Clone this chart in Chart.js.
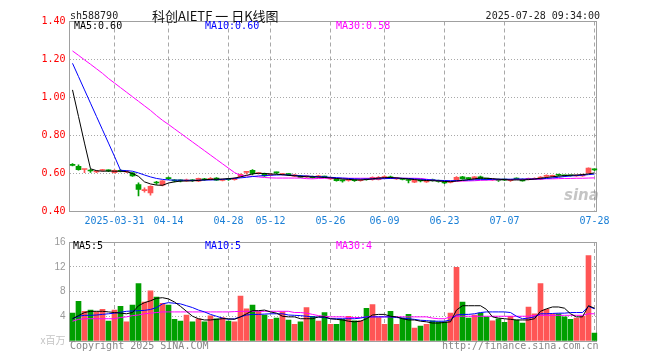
<!DOCTYPE html>
<html>
<head>
<meta charset="utf-8">
<script src="https://cdn.jsdelivr.net/npm/chart.js@4.4.1/dist/chart.umd.min.js"></script>
<style>
  html, body { margin: 0; padding: 0; background: #fff; }
  #wrap { position: relative; width: 660px; height: 360px; overflow: hidden; }
  canvas { position: absolute; left: 0; }
  .t { position: absolute; font-family: "DejaVu Sans Mono", monospace; font-size: 10px; line-height: 12px; white-space: nowrap; }
</style>
</head>
<body>
<div id="wrap">
  <canvas id="kline" width="660" height="232" style="top:0"></canvas>
  <canvas id="vol" width="660" height="128" style="top:232px"></canvas>

  <div class="t" style="left:70px;top:10px;color:#222">sh588790</div>
  <div class="t" style="left:152px;top:8px;font-family:'Noto Sans CJK SC';font-size:13px;line-height:15px;color:#111">科创AIETF 一 日K线图</div>
  <div class="t" style="right:60px;top:10px;color:#222">2025-07-28 09:34:00</div>

  <div class="t" style="left:74px;top:20px;color:#000">MA5:0.60</div>
  <div class="t" style="left:205px;top:20px;color:#0000ff">MA10:0.60</div>
  <div class="t" style="left:336px;top:20px;color:#ff00ff">MA30:0.58</div>

  <div class="t" style="left:73px;top:240px;color:#000">MA5:5</div>
  <div class="t" style="left:205px;top:240px;color:#0000ff">MA10:5</div>
  <div class="t" style="left:336px;top:240px;color:#ff00ff">MA30:4</div>

  <div class="t" style="left:564px;top:189px;font-family:'DejaVu Sans';font-size:15px;font-weight:bold;font-style:italic;color:rgba(150,150,150,0.55)">sina</div>

  <div class="t" style="left:70px;top:340px;color:#888">Copyright 2025 SINA.COM</div>
  <div class="t" style="left:442px;top:340px;color:#888">http://finance.sina.com.cn</div>
</div>

<script>
const year = '2025';
const dates = [
  '03-20','03-21','03-24','03-25','03-26','03-27','03-28','03-31',
  '04-01','04-02','04-03','04-07','04-08','04-09','04-10','04-11','04-14','04-15','04-16','04-17','04-18',
  '04-21','04-22','04-23','04-24','04-25','04-28','04-29','04-30',
  '05-06','05-07','05-08','05-09','05-12','05-13','05-14','05-15','05-16','05-19','05-20','05-21','05-22','05-23',
  '05-26','05-27','05-28','05-29','05-30',
  '06-03','06-04','06-05','06-06','06-09','06-10','06-11','06-12','06-13','06-16','06-17','06-18','06-19','06-20',
  '06-23','06-24','06-25','06-26','06-27','06-30',
  '07-01','07-02','07-03','07-04','07-07','07-08','07-09','07-10','07-11','07-14','07-15','07-16','07-17','07-18',
  '07-21','07-22','07-23','07-24','07-25','07-28'
];
const tickDates = ['03-31','04-14','04-28','05-12','05-26','06-09','06-23','07-07','07-28'];

const opens = [
  0.645,0.638,0.621,0.616,0.608,0.616,0.616,0.604,0.616,0.608,
  0.603,0.542,0.510,0.498,0.553,0.538,0.576,0.565,0.563,0.561,
  0.566,0.559,0.571,0.569,0.576,0.563,0.570,0.567,0.583,0.606,
  0.617,0.599,0.600,0.591,0.605,0.594,0.596,0.586,0.588,0.582,
  0.584,0.582,0.585,0.571,0.572,0.562,0.563,0.564,0.562,0.572,
  0.567,0.568,0.578,0.583,0.572,0.572,0.565,0.555,0.563,0.556,
  0.567,0.563,0.553,0.553,0.567,0.582,0.575,0.572,0.583,0.572,
  0.566,0.566,0.568,0.562,0.574,0.569,0.568,0.569,0.570,0.585,
  0.585,0.593,0.590,0.590,0.587,0.587,0.603,0.622
];
const highs = [
  0.652,0.645,0.622,0.622,0.615,0.622,0.619,0.619,0.620,0.614,
  0.605,0.551,0.524,0.535,0.559,0.563,0.581,0.568,0.567,0.570,
  0.568,0.576,0.574,0.579,0.578,0.571,0.573,0.577,0.598,0.607,
  0.620,0.604,0.602,0.599,0.608,0.601,0.600,0.595,0.590,0.589,
  0.586,0.590,0.587,0.580,0.574,0.566,0.570,0.567,0.569,0.575,
  0.583,0.584,0.588,0.586,0.578,0.575,0.571,0.569,0.566,0.564,
  0.570,0.566,0.558,0.560,0.584,0.585,0.579,0.584,0.586,0.575,
  0.572,0.570,0.571,0.568,0.577,0.572,0.576,0.577,0.584,0.593,
  0.592,0.597,0.592,0.591,0.592,0.597,0.630,0.625
];
const lows = [
  0.640,0.617,0.604,0.606,0.605,0.612,0.609,0.602,0.608,0.604,
  0.584,0.482,0.502,0.486,0.543,0.535,0.567,0.556,0.556,0.558,
  0.558,0.557,0.564,0.566,0.563,0.561,0.564,0.565,0.581,0.596,
  0.592,0.596,0.585,0.589,0.598,0.591,0.589,0.583,0.578,0.580,
  0.575,0.580,0.578,0.569,0.560,0.555,0.560,0.558,0.560,0.565,
  0.565,0.566,0.576,0.573,0.569,0.566,0.551,0.552,0.556,0.553,
  0.560,0.555,0.546,0.550,0.564,0.570,0.568,0.570,0.571,0.566,
  0.564,0.558,0.562,0.558,0.567,0.559,0.566,0.567,0.568,0.580,
  0.581,0.587,0.585,0.586,0.585,0.585,0.601,0.615
];
const closes = [
  0.643,0.620,0.622,0.613,0.612,0.618,0.614,0.617,0.612,0.611,
  0.587,0.516,0.513,0.533,0.550,0.561,0.573,0.561,0.561,0.567,
  0.562,0.574,0.567,0.575,0.565,0.568,0.567,0.575,0.596,0.607,
  0.600,0.602,0.587,0.596,0.603,0.598,0.594,0.593,0.580,0.586,
  0.578,0.585,0.581,0.578,0.562,0.561,0.567,0.562,0.566,0.568,
  0.580,0.580,0.584,0.575,0.575,0.569,0.563,0.567,0.561,0.562,
  0.563,0.558,0.551,0.557,0.580,0.572,0.573,0.582,0.573,0.570,
  0.569,0.564,0.565,0.566,0.570,0.561,0.574,0.574,0.581,0.587,
  0.587,0.591,0.588,0.588,0.590,0.595,0.628,0.619
];

const ma5 = [
  1.04,0.90,0.76,0.625,0.615,0.612,0.613,0.612,0.612,0.61,
  0.60,0.585,0.556,0.545,0.539,0.538,0.55,0.556,0.56,0.561,
  0.561,0.564,0.567,0.569,0.57,0.571,0.573,0.576,0.582,0.59,
  0.598,0.601,0.60,0.598,0.596,0.594,0.59,0.588,0.585,0.583,
  0.582,0.581,0.579,0.577,0.574,0.571,0.569,0.567,0.566,0.568,
  0.572,0.576,0.578,0.579,0.577,0.574,0.571,0.568,0.565,0.563,
  0.562,0.561,0.558,0.557,0.56,0.564,0.568,0.572,0.576,0.575,
  0.573,0.57,0.568,0.566,0.566,0.566,0.568,0.571,0.575,0.579,
  0.583,0.586,0.589,0.591,0.592,0.594,0.598,0.603
];
const ma10 = [
  1.18,1.11,1.04,0.97,0.90,0.83,0.76,0.69,0.617,0.615,
  0.612,0.603,0.592,0.582,0.574,0.569,0.566,0.565,0.565,0.564,
  0.564,0.564,0.565,0.566,0.567,0.569,0.571,0.574,0.577,0.58,
  0.584,0.587,0.589,0.591,0.592,0.593,0.592,0.59,0.588,0.587,
  0.585,0.583,0.582,0.58,0.578,0.576,0.574,0.572,0.571,0.571,
  0.571,0.572,0.573,0.574,0.575,0.575,0.574,0.572,0.57,0.568,
  0.566,0.564,0.563,0.562,0.563,0.564,0.565,0.567,0.568,0.568,
  0.569,0.57,0.57,0.57,0.571,0.571,0.571,0.571,0.572,0.574,
  0.577,0.58,0.584,0.587,0.589,0.591,0.594,0.597
];
const ma30 = [
  1.245,1.222,1.198,1.175,1.151,1.127,1.10,1.076,1.052,1.028,
  1.004,0.98,0.956,0.932,0.905,0.88,0.858,0.835,0.812,0.789,
  0.766,0.743,0.72,0.697,0.674,0.651,0.628,0.605,0.59,0.587,
  0.585,0.582,0.579,0.577,0.576,0.576,0.576,0.576,0.576,0.573,
  0.572,0.574,0.575,0.575,0.575,0.575,0.575,0.575,0.575,0.575,
  0.575,0.575,0.575,0.575,0.575,0.575,0.575,0.575,0.574,0.570,
  0.565,0.562,0.560,0.559,0.559,0.560,0.561,0.562,0.564,0.565,
  0.566,0.567,0.568,0.568,0.569,0.569,0.570,0.570,0.571,0.572,
  0.572,0.573,0.574,0.574,0.575,0.575,0.576,0.577
];

// volume, in millions of shares
const volumes = [
  4.5,6.4,4.8,5.0,4.7,5.1,3.2,5.0,5.6,3.1,
  5.8,9.3,6.3,8.1,7.1,6.1,5.8,3.5,3.2,4.2,
  3.1,3.6,3.1,4.05,3.6,3.8,3.2,3.1,7.25,5.2,
  5.8,4.7,4.2,3.5,3.7,4.7,3.4,2.7,3.1,5.4,
  4.0,3.2,4.6,2.7,2.7,3.5,4.0,3.25,3.25,5.3,
  5.9,3.8,2.7,4.8,2.7,3.7,4.3,2.1,2.4,2.7,
  3.25,3.1,3.1,4.5,11.9,6.3,3.7,4.2,4.5,3.9,
  3.25,3.6,3.0,4.0,3.4,2.9,5.5,4.4,9.3,5.1,
  4.4,4.4,3.9,3.5,3.7,4.0,13.8,1.3
];
const volMa5 = [
  3.6,4.1,4.6,4.8,4.8,4.8,4.7,4.6,4.5,4.4,
  4.6,5.7,6.2,6.5,6.9,7.0,6.8,6.3,5.6,4.8,
  4.0,3.6,3.4,3.4,3.5,3.6,3.6,3.5,3.9,4.4,
  4.9,4.9,5.0,4.7,4.5,4.0,3.9,3.9,3.6,3.6,
  3.6,3.9,3.9,3.6,3.5,3.4,3.2,3.1,3.2,3.6,
  4.2,4.3,4.3,4.0,3.9,3.6,3.4,3.4,3.2,3.1,
  2.9,2.9,3.0,3.1,5.0,5.7,5.7,5.7,5.7,5.1,
  3.9,3.7,3.6,3.5,3.4,3.4,3.4,3.6,4.8,5.2,
  5.5,5.5,5.3,4.4,3.9,3.9,5.7,5.3
];
const volMa10 = [
  3.6,4.0,4.15,4.15,4.2,4.3,4.4,4.5,4.65,4.8,
  4.85,4.9,4.95,5.1,5.4,6.0,6.2,6.1,6.0,5.7,
  5.4,5.0,4.7,4.3,4.0,3.7,3.5,3.6,3.9,4.2,
  4.3,4.3,4.35,4.4,4.4,4.4,4.2,4.15,4.1,4.0,
  3.9,3.85,3.8,3.6,3.6,3.6,3.6,3.6,3.7,3.9,
  3.9,3.9,3.9,3.9,3.8,3.7,3.6,3.5,3.35,3.3,
  3.2,3.2,3.2,3.4,4.2,4.3,4.3,4.4,4.6,4.7,
  4.7,4.7,4.7,4.6,4.0,3.6,3.7,3.9,4.4,4.4,
  4.45,4.5,4.5,4.6,4.6,4.6,5.6,5.2
];
const volMa30 = [
  3.2,3.5,3.6,3.6,3.6,3.6,3.6,3.6,3.8,3.9,
  4.1,4.2,4.4,4.5,4.6,4.7,4.7,4.7,4.7,4.7,
  4.7,4.7,4.7,4.7,4.7,4.7,4.7,4.75,4.8,4.8,
  4.8,4.8,4.8,4.8,4.8,4.8,4.8,4.6,4.6,4.5,
  4.3,4.1,4.0,3.9,3.9,3.9,3.8,3.8,3.8,3.9,
  3.9,3.9,3.9,3.9,3.9,3.9,3.9,3.9,3.9,3.9,
  3.7,3.6,3.6,3.9,4.0,4.0,4.0,4.0,4.0,4.0,
  4.0,4.0,4.0,4.0,4.0,4.0,4.0,4.15,4.15,4.15,
  4.15,4.15,4.15,4.15,4.15,4.15,4.4,4.4
];

const UP = '#ff5555';
const DOWN = '#009f00';
const GRID = '#a8a8a8';
const MONO = 'DejaVu Sans Mono';

const candleColors = closes.map((c, i) => c >= opens[i] ? UP : DOWN);
const bodies = opens.map((o, i) => [Math.min(o, closes[i]), Math.max(o, closes[i])]);
const wicks = lows.map((l, i) => [l, highs[i]]);

const isTickDate = i => tickDates.includes(dates[i]);

// plot frame
const framePlugin = {
    id: 'frame',
    beforeDatasetsDraw(chart) {
        const a = chart.chartArea;
        const ctx = chart.ctx;
        ctx.save();
        ctx.strokeStyle = '#a0a0a0';
        ctx.lineWidth = 1;
        ctx.strokeRect(Math.floor(a.left) + 0.5, Math.floor(a.top) + 0.5,
            Math.round(a.right - a.left) - 1, Math.round(a.bottom - a.top));
        ctx.restore();
    }
};

function maLine(data, color) {
    return {
        type: 'line', data: data, borderColor: color, borderWidth: 1,
        pointRadius: 0, tension: 0, order: 1
    };
}

function xScale(showLabels) {
    return {
        type: 'category',
        offset: true,
        grid: {
            offset: false,
            drawTicks: false,
            color: ctx => isTickDate(ctx.index) ? GRID : 'transparent'
        },
        border: { display: false, dash: [4, 3] },
        ticks: {
            display: showLabels,
            autoSkip: false,
            maxRotation: 0,
            minRotation: 0,
            padding: 4,
            color: '#1a7fd6',
            font: { family: MONO, size: 10 },
            callback: (v, i) => {
                if (!isTickDate(i)) return '';
                return dates[i] === tickDates[0] ? year + '-' + dates[i] : dates[i];
            }
        },
        afterFit: s => { s.height = showLabels ? 20 : 0; }
    };
}

Chart.defaults.animation = false;

new Chart(document.getElementById('kline'), {
    type: 'bar',
    data: {
        labels: dates,
        datasets: [
            maLine(ma5, '#000000'),
            maLine(ma10, '#0000ff'),
            maLine(ma30, '#ff00ff'),
            { data: bodies, backgroundColor: candleColors, barThickness: 5, minBarLength: 1, grouped: false, order: 2 },
            { data: wicks, backgroundColor: candleColors, barThickness: 1, grouped: false, order: 3 }
        ]
    },
    options: {
        responsive: false,
        devicePixelRatio: 1,
        layout: { padding: { left: 0, right: 62.5, top: 21.5, bottom: 0.5 } },
        plugins: { legend: { display: false }, tooltip: { enabled: false } },
        scales: {
            x: xScale(true),
            y: {
                min: 0.4, max: 1.4,
                grid: {
                    drawTicks: false,
                    color: ctx => (ctx.tick && (Math.abs(ctx.tick.value - 0.4) < 1e-6 || Math.abs(ctx.tick.value - 1.4) < 1e-6)) ? 'transparent' : GRID
                },
                border: { display: false, dash: [1, 2] },
                ticks: {
                    stepSize: 0.2,
                    padding: 4,
                    color: '#ff0000',
                    font: { family: MONO, size: 10 },
                    callback: v => v.toFixed(2)
                },
                afterFit: s => { s.width = 69.5; }
            }
        }
    },
    plugins: [framePlugin]
});

new Chart(document.getElementById('vol'), {
    type: 'bar',
    data: {
        labels: dates,
        datasets: [
            maLine(volMa5, '#000000'),
            maLine(volMa10, '#0000ff'),
            maLine(volMa30, '#ff00ff'),
            { data: volumes, backgroundColor: candleColors, barThickness: 5, grouped: false, order: 2 }
        ]
    },
    options: {
        responsive: false,
        devicePixelRatio: 1,
        layout: { padding: { left: 0, right: 62.5, top: 9, bottom: 19 } },
        plugins: { legend: { display: false }, tooltip: { enabled: false } },
        scales: {
            x: xScale(false),
            y: {
                min: 0, max: 16,
                grid: {
                    drawTicks: false,
                    color: ctx => (ctx.tick && (ctx.tick.value === 0 || ctx.tick.value === 16)) ? 'transparent' : GRID
                },
                border: { display: false, dash: [1, 2] },
                ticks: {
                    stepSize: 4,
                    padding: 4,
                    color: ctx => ctx.tick && ctx.tick.value === 0 ? '#c4c4c4' : '#999999',
                    font: { family: 'Liberation Sans, Noto Sans CJK SC', size: 10 },
                    callback: v => v === 0 ? 'x百万' : String(v)
                },
                afterFit: s => { s.width = 69.5; }
            }
        }
    },
    plugins: [framePlugin]
});
</script>
</body>
</html>
